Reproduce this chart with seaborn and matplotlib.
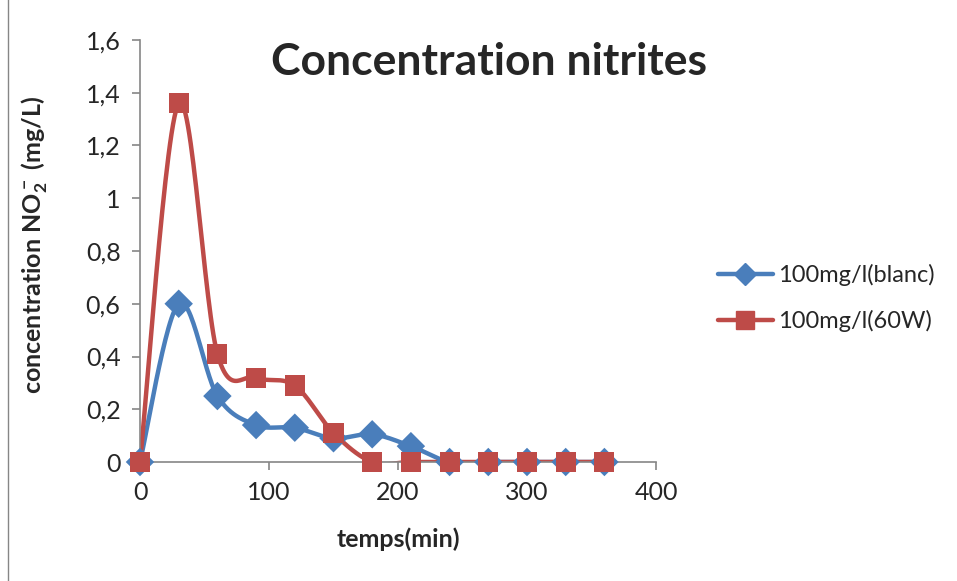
import numpy as np
import pandas as pd
import matplotlib
matplotlib.use('Agg')
import matplotlib.pyplot as plt
import seaborn as sns
from matplotlib.lines import Line2D
from matplotlib.patches import Rectangle
from matplotlib.ticker import FuncFormatter, MultipleLocator

# données
temps = [0, 30, 60, 90, 120, 150, 180, 210, 240, 270, 300, 330, 360]
blanc = [0, 0.6, 0.25, 0.14, 0.13, 0.09, 0.105, 0.06, 0, 0, 0, 0, 0]
w60 = [0, 1.36, 0.41, 0.32, 0.29, 0.11, 0, 0, 0, 0, 0, 0, 0]
labels = ['100mg/l(blanc)', '100mg/l(60W)']

BLUE = '#4A7EBB'
RED = '#BE4B48'
GREY = '#868686'


def smooth(x, y, n=30):
    # lissage type Excel (Bezier, tangentes Catmull-Rom)
    x = np.asarray(x, float)
    y = np.asarray(y, float)
    px = np.concatenate([[x[0]], x, [x[-1]]])
    py = np.concatenate([[y[0]], y, [y[-1]]])
    xs, ys = [], []
    t = np.linspace(0, 1, n)
    for i in range(1, len(px) - 2):
        p0 = np.array([px[i], py[i]])
        p3 = np.array([px[i + 1], py[i + 1]])
        c1 = p0 + (np.array([px[i + 1], py[i + 1]]) - np.array([px[i - 1], py[i - 1]])) / 6
        c2 = p3 - (np.array([px[i + 2], py[i + 2]]) - np.array([px[i], py[i]])) / 6
        b = ((1 - t) ** 3)[:, None] * p0 + (3 * (1 - t) ** 2 * t)[:, None] * c1 \
            + (3 * (1 - t) * t ** 2)[:, None] * c2 + (t ** 3)[:, None] * p3
        xs.extend(b[:, 0])
        ys.extend(b[:, 1])
    return np.array(xs), np.array(ys)


sns.set_style('white')
plt.rcParams['font.family'] = ['Lato', 'DejaVu Sans']
plt.rcParams['mathtext.fontset'] = 'custom'
plt.rcParams['mathtext.bf'] = 'Lato:bold'
plt.rcParams['mathtext.rm'] = 'Lato'

fig = plt.figure(figsize=(9.57, 5.81), dpi=100)
ax = fig.add_axes([140 / 957, 1 - 462 / 581, 516 / 957, 422 / 581])

df = pd.DataFrame({'temps': temps * 2,
                   'conc': blanc + w60,
                   'serie': [labels[0]] * len(temps) + [labels[1]] * len(temps)})

for lab, col in zip(labels, [BLUE, RED]):
    sub = df[df['serie'] == lab]
    sx, sy = smooth(sub['temps'], sub['conc'])
    ax.plot(sx, sy, color=col, lw=3.2, solid_capstyle='round', zorder=2)

sns.scatterplot(data=df, x='temps', y='conc', hue='serie', style='serie',
                markers={labels[0]: 'D', labels[1]: 's'},
                palette={labels[0]: BLUE, labels[1]: RED},
                s=210, linewidth=0, legend=False, ax=ax, zorder=3,
                clip_on=False)

ax.set_xlim(0, 400)
ax.set_ylim(0, 1.6)
ax.xaxis.set_major_locator(MultipleLocator(100))
ax.yaxis.set_major_locator(MultipleLocator(0.2))
ax.yaxis.set_major_formatter(FuncFormatter(lambda v, p: f'{v:g}'.replace('.', ',')))
for s in ['top', 'right']:
    ax.spines[s].set_visible(False)
for s in ['left', 'bottom']:
    ax.spines[s].set_color(GREY)
    ax.spines[s].set_linewidth(1.2)
ax.tick_params(axis='both', direction='out', length=6, width=1.2, color=GREY,
               labelsize=18, pad=8, bottom=True, left=True)
ax.set_xlabel('temps(min)', fontsize=18, fontweight='bold')
ax.set_ylabel(r'concentration $\mathbf{NO_2^-}$ (mg/L)', fontsize=18, fontweight='bold')
ax.xaxis.set_label_coords(0.5, -0.155)
ax.yaxis.set_label_coords(-0.175, 0.514)

fig.text(489 / 957, 1 - 62 / 581, 'Concentration nitrites', fontsize=32,
         fontweight='bold', ha='center', va='center')

handles = [Line2D([], [], color=BLUE, lw=3.2, marker='D', markersize=11),
           Line2D([], [], color=RED, lw=3.2, marker='s', markersize=13)]
fig.legend(handles, labels, loc='center left', bbox_to_anchor=(697 / 957, 1 - 298 / 581),
           frameon=False, fontsize=17, handlelength=2.3, handletextpad=0.25,
           labelspacing=1.0, borderpad=0.4)

fig.add_artist(Rectangle((8 / 957, -0.01), 1.2, 1.2, transform=fig.transFigure,
                         fill=False, edgecolor=GREY, lw=1))

fig.savefig('out.png', dpi=100)
